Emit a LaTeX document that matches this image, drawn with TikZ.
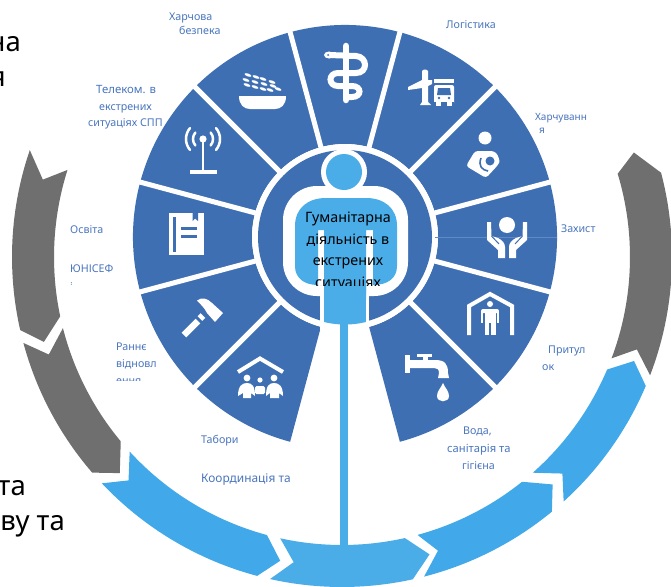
\documentclass[tikz,border=0pt]{standalone}
\usepackage{fontspec}
\setmainfont{Noto Sans}
\definecolor{sectorblue}{HTML}{3F6FB3}
\definecolor{personblue}{HTML}{4BADE8}
\definecolor{arrowblue}{HTML}{41A9E9}
\definecolor{arrowgray}{HTML}{6F6F6F}
\definecolor{labelblue}{HTML}{4A76BE}
\newcommand\seg[7]{\fill[#1] (#2:330) arc[start angle=#2,end angle=#7,radius=330pt] -- (#6:310) -- (#5:288) arc[start angle=#5,end angle=#4,radius=288pt] -- (#3:309) -- cycle;}
\tikzset{
  lbl/.style={anchor=base west,inner sep=0pt,text=labelblue,font=\fontsize{10.7}{12}\selectfont},
  lblwide/.style={lbl,font=\fontsize{11.9}{14}\selectfont},
  lblnarrow/.style={lbl,font=\fontsize{10}{12}\selectfont},
  bigtxt/.style={anchor=base east,inner sep=0pt,text=black,font=\fontsize{27.5}{32}\selectfont},
  midtxt/.style={anchor=base,inner sep=0pt,text=black,font=\fontsize{14.3}{17}\selectfont},
}
\begin{document}
\begin{tikzpicture}[x=1pt,y=-1pt]
\useasboundingbox (0,0) rectangle (671,586);
\clip (0,0) rectangle (671,586);
\fill[white] (0,0) rectangle (671,586);

% outer chevrons
\begin{scope}[shift={(342,257)},y=1pt]
\seg{arrowgray}{161.1}{165.5}{162.4}{191.9}{195.9}{192.8}
\seg{arrowgray}{195.1}{198.4}{194.3}{219.8}{224.2}{220.8}
\seg{arrowblue}{223.3}{226.3}{222.5}{254.9}{258.5}{255.1}
\seg{personblue}{257.4}{261}{257.6}{282.6}{286.4}{282.4}
\seg{arrowblue}{284.4}{288.1}{285.2}{308.7}{312.8}{309.5}
\seg{arrowblue}{312.2}{315.5}{311.5}{337}{340.4}{337}
\seg{arrowgray}{339}{342.6}{339.4}{376.8}{379.7}{374.8}
\end{scope}

% wheel
\begin{scope}[shift={(345,237)},y=1pt]
\fill[sectorblue] (255:93) arc[start angle=255,end angle=-75,radius=93pt] -- (-75:212) arc[start angle=-75,end angle=255,radius=212pt] -- cycle;
\foreach \a in {-45,-15,15,45,75,105,135,165,195,225}
  \draw[white,line width=5pt] (\a:88) -- (\a:216);
\fill[white] (0,0) circle[radius=93pt];
\fill[sectorblue] (0,0) circle[radius=87pt];
\draw[white!18!sectorblue,line width=.4pt] (90,0) -- (212,0);
\end{scope}

% person
\fill[white,rounded corners=34pt] (283,186) rectangle (408,296);
\fill[white] (344,172) circle[radius=23pt];
\fill[white] (320,285) rectangle (369,330);
\fill[personblue] (344,172) circle[radius=18pt];
% arms and shoulders
\fill[personblue] (295,226) .. controls (295,208) and (308,198) .. (326,198) -- (366,198) .. controls (384,198) and (397,208) .. (397,226) -- (397,266) .. controls (397,278) and (388,285) .. (373,285) -- (373,230) -- (366,230) -- (366,300) -- (324,300) -- (324,230) -- (318,230) -- (318,285) .. controls (304,285) and (295,278) .. (295,266) -- cycle;
\fill[personblue] (324,282) -- (324,322) arc[start angle=256.2,end angle=283.8,radius=88pt] -- (366,282) -- cycle;
\fill[personblue] (340,320) rectangle (348,546);

% health
\begin{scope}[white]
\draw[line width=6.5pt,line cap=round] (346,46) -- (346,100);
\draw[line width=6pt,line cap=round] (329,55) -- (356,56) .. controls (368,57) and (368,73) .. (356,73) -- (338,73) .. controls (328,73) and (328,86) .. (338,86) -- (352,86) .. controls (362,86) and (362,97) .. (352,97) -- (346,97);
\fill (329,55) ellipse[x radius=5pt,y radius=3.5pt];
\fill[sectorblue] (328,55) circle[radius=1pt];
% plane + truck
\fill (422,71) .. controls (423,69) and (427,69) .. (428,71) -- (428,80) -- (432,80) -- (432,84) -- (428,86) -- (428,102) -- (431,105) -- (420,105) -- (422,102) -- (422,88) -- (408,90) -- (408,87) -- (422,80) -- cycle;
\fill (434,79) rectangle (454,83);
\fill[rounded corners=2pt] (434,85) rectangle (454,105);
\fill[sectorblue] (438,88) -- (450,88) -- (451,95) -- (437,95) -- cycle;
\fill[sectorblue] (434,102) rectangle (454,106);
\fill (436,100) rectangle (441,106);
\fill (447,100) rectangle (452,106);
\fill[sectorblue] (439,98) circle[radius=1.4pt];
\fill[sectorblue] (449,98) circle[radius=1.4pt];
% bowl
\fill (239,96) -- (286,96) .. controls (286,105) and (281,109) .. (275,109) -- (250,109) .. controls (244,109) and (239,105) .. (239,96) -- cycle;
\foreach \x/\y in {248/75,256/77,263/79,272/82,246/80,255/82,247/85,255/87,263/89,270/90,278/89,264/84,273/86}
  \fill[rotate around={-20:(\x,\y)}] (\x,\y) ellipse[x radius=3.6pt,y radius=1.4pt];
% antenna
\fill (203,139) circle[radius=3.6pt];
\draw[line width=2.8pt] (203,139) -- (203,172);
\draw[line width=3.2pt] (190,172) -- (217,172);
\end{scope}
\begin{scope}[shift={(203,139)},y=1pt,white,line width=2.5pt,line cap=round]
\draw (140:10) arc[start angle=140,end angle=220,radius=10pt];
\draw (140:17) arc[start angle=140,end angle=220,radius=17pt];
\draw (40:10) arc[start angle=40,end angle=-40,radius=10pt];
\draw (40:17) arc[start angle=40,end angle=-40,radius=17pt];
\end{scope}
\begin{scope}[white]
% book
\fill (169,213) rectangle (204,255);
\fill[sectorblue] (173,217) rectangle (175.5,252);
\fill[sectorblue] (192.5,212) -- (192.5,221) -- (195,218.5) -- (198,221) -- (198,212) -- cycle;
\fill[sectorblue] (181,227) rectangle (197,229.5);
\fill[sectorblue] (181,235) rectangle (197,237.5);
% hammer
\draw[line width=6.5pt] (184,335) -- (198,321);
\draw[line width=6.5pt] (200,318.5) -- (203,315.5);
\fill (197,300.5) .. controls (202,297) and (207,298) .. (212,303) -- (223,313) -- (215,322) -- (207,313) .. controls (204,307) and (201,305) .. (197,300.5) -- cycle;
% camps
\draw[line width=4pt] (238,372) -- (260,358.5) -- (283,372);
\fill (247,378) circle[radius=3.4pt];
\fill (260,380) circle[radius=2.6pt];
\fill (274,378) circle[radius=3.4pt];
\fill (238,396) .. controls (238,386) and (242,383) .. (247,383) .. controls (252,383) and (255,386) .. (255,396) -- (251,393) -- (251,398) -- (243,398) -- (243,393) -- cycle;
\fill (266,396) .. controls (266,386) and (269,383) .. (274,383) .. controls (279,383) and (283,386) .. (283,396) -- (279,393) -- (279,398) -- (270,398) -- (270,393) -- cycle;
\fill[rounded corners=1.5pt] (255,386) rectangle (265,394);
% tap
\fill (405,355) rectangle (410,373);
\fill (410,360) -- (435,360) .. controls (445,360) and (448,364) .. (448,373) -- (449,378) -- (438,378) -- (439,373) .. controls (439,369) and (437,368) .. (434,368) -- (410,368) -- cycle;
\fill (423,356) rectangle (428,361);
\fill (417,354) rectangle (432,357);
\fill (443,383) .. controls (445,388) and (449,391) .. (449,396) .. controls (449,403) and (437,403) .. (437,396) .. controls (437,391) and (441,388) .. (443,383) -- cycle;
% shelter
\draw[line width=4pt] (469,335) -- (469,306) -- (490,294) -- (512,306) -- (512,335);
\fill (490,304) circle[radius=3pt];
\fill[rounded corners=2pt] (481,309) rectangle (499,313);
\draw[line width=2pt] (482,311) -- (482,323);
\draw[line width=2pt] (498,311) -- (498,323);
\fill (484.5,310) rectangle (495.5,323);
\fill (484.5,322) rectangle (489.3,335);
\fill (490.7,322) rectangle (495.5,335);
% nursing
\fill (485,138) circle[radius=6.5pt];
\fill[rounded corners=3pt] (475,151) -- (494,151) .. controls (498,155) and (500,161) .. (498,165) -- (486,178) -- (466,166) -- cycle;
\draw[sectorblue,line width=1.6pt] (481,158) .. controls (478,166) and (482,170) .. (488,171);
\fill[sectorblue] (490,161) circle[radius=4.5pt];
% protection
\fill (507,225) circle[radius=8pt];
\foreach \s in {1,-1}{
\fill[xshift=507pt,xscale=\s] (-20,222) -- (-16,222) -- (-15.5,236) -- (-9,238) .. controls (-5,240) and (-2,243) .. (-2,247) -- (-2,258) -- (-9,258) -- (-9,250) -- (-20,240) -- cycle;
\draw[sectorblue,line width=1pt,xshift=507pt,xscale=\s] (-15.5,236) -- (-8,244);
}
\end{scope}

% labels
\node[lbl] (l1) at (169,21) {Харчова};
\node[lbl] (l2) at (179,35) {безпека};
\node[lbl] (l3) at (446,29) {Логістика};
\node[lbl,font=\fontsize{11.4}{14}\selectfont] (l4) at (96,93) {Телеком. в};
\node[lbl] (l5) at (99,110) {екстрених};
\node[lbl] (l6) at (88,126) {ситуаціях СПП};
\node[lblnarrow] (l7) at (535,120) {Харчуванн};
\node[lblnarrow] (l8) at (539,133) {я};
\node[lbl] (l9) at (561,232) {Захист};
\node[lbl] (l10) at (70,233) {Освіта};
\node[lbl] (l11) at (70,272) {ЮНІСЕФ};
\begin{scope}
\clip (60,279) rectangle (110,284);
\node[lbl] (l12) at (70,290) {і};
\end{scope}
\node[lbl] (l13) at (116,350) {Раннє};
\node[lbl] (l14) at (116,367) {відновл};
\begin{scope}
\clip (100,372) rectangle (200,380);
\node[lbl] (l15) at (116,384) {ення};
\end{scope}
\node[lbl] (l16) at (201,443) {Табори};
\node[lblwide] (l17) at (201,482) {Координація та};
\node[lbl] (l18) at (548,353) {Притул};
\node[lbl] (l19) at (542,370) {ок};
\node[lbl] (l20) at (463,434) {Вода,};
\node[lbl,font=\fontsize{11.2}{14}\selectfont] (l21) at (447,452) {санітарія та};
\node[lbl] (l22) at (462,469) {гігієна};

% big clipped black text
\node[bigtxt] (b1) at (21,52) {на};
\node[bigtxt] (b2) at (6,86) {я};
\node[bigtxt] (b3) at (26,495) {та};
\node[bigtxt] (b4) at (65,530) {ву та};

% centre
\node[midtxt] (c1) at (348,222) {Гуманітарна};
\node[midtxt] (c2) at (348,244) {діяльність в};
\node[midtxt] (c3) at (348,265) {екстрених};
\begin{scope}
\clip (290,270) rectangle (410,285);
\node[midtxt] (c4) at (348,287) {ситуаціях};
\end{scope}
\end{tikzpicture}
\end{document}
